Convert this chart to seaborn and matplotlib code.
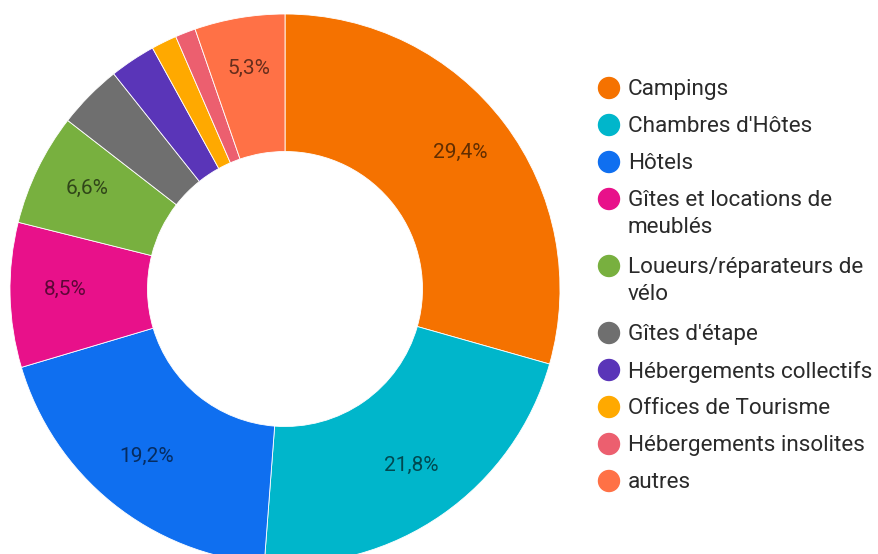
import matplotlib
matplotlib.use('Agg')
import matplotlib.pyplot as plt
from matplotlib.patches import Ellipse
import seaborn as sns
import numpy as np

sns.set_theme(style='white')
plt.rcParams['font.family'] = ['Roboto', 'DejaVu Sans']

# Data
categories = ["Campings", "Chambres d'Hôtes", "Hôtels", "Gîtes et locations de\nmeublés",
              "Loueurs/réparateurs de\nvélo", "Gîtes d'étape", "Hébergements collectifs",
              "Offices de Tourisme", "Hébergements insolites", "autres"]
shares = [29.4, 21.8, 19.2, 8.5, 6.6, 3.8, 2.7, 1.5, 1.2, 5.3]
colors = ["#f57200", "#00b6cb", "#0f6ff0", "#e8118a", "#78b03f",
          "#6f6f6f", "#5a35b8", "#ffa900", "#ec5f6f", "#ff7146"]

palette = sns.color_palette(colors)

fig = plt.figure(figsize=(8.79, 5.54), dpi=100)
ax = fig.add_axes([10 / 879, -10 / 554, 550 / 879, 550 / 554])

wedges, texts = ax.pie(shares, colors=palette, startangle=90, counterclock=False,
                       radius=1.0, wedgeprops=dict(width=0.5, edgecolor='white', linewidth=0.6))

# Percentage labels (only slices >= 5%)
for w, v, c in zip(wedges, shares, palette):
    if v < 5:
        continue
    ang = np.deg2rad((w.theta1 + w.theta2) / 2)
    r = 0.8
    dark = tuple(np.array(c) * 0.4)
    ax.text(r * np.cos(ang), r * np.sin(ang) + 0.015, f"{v:.1f}%".replace('.', ','),
            ha='center', va='center', fontsize=15, color=dark)

ax.set_xlim(-1, 1)
ax.set_ylim(-1, 1)
ax.set_aspect('equal')
ax.axis('off')

# Legend drawn at the right
W, H = 879, 554
y = 88
for name, c in zip(categories, palette):
    fig.add_artist(Ellipse((609 / W, 1 - y / H), 21 / W, 21 / H, color=c,
                           transform=fig.transFigure))
    fig.text(628 / W, 1 - (y - 9) / H, name, ha='left', va='top', fontsize=16.2,
             color='#2a2a2a', linespacing=1.38, transform=fig.transFigure)
    n = name.count('\n')
    y += 37 + n * 30

fig.savefig('out.png', dpi=100)
